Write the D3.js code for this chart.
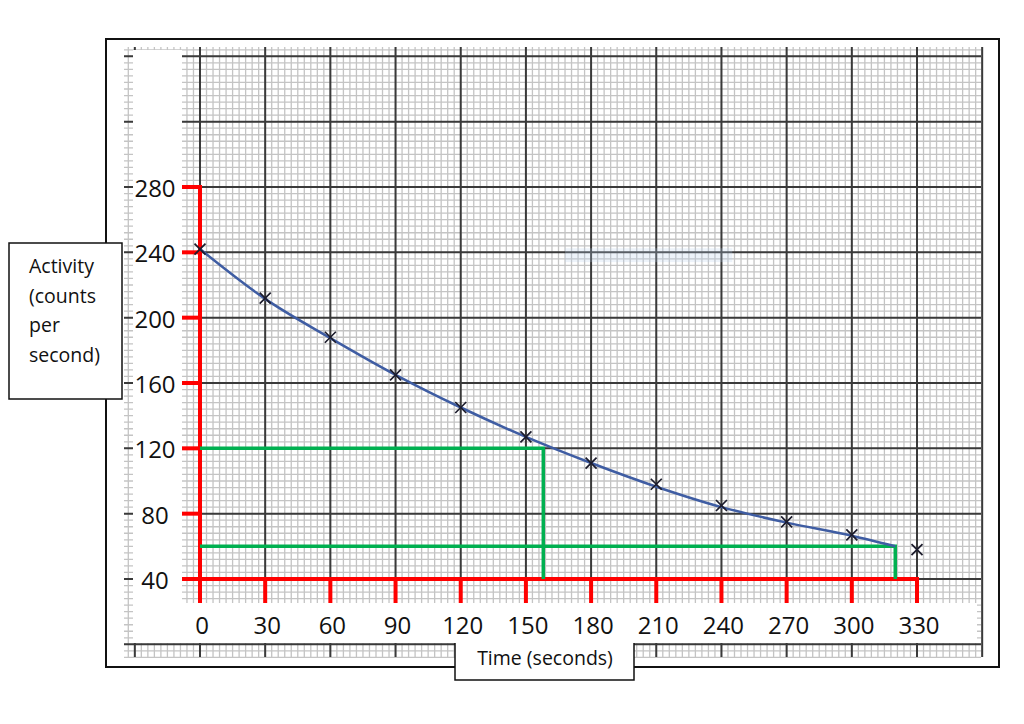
<!DOCTYPE html>
<html>
<head>
<meta charset="utf-8">
<script src="https://cdn.jsdelivr.net/npm/d3@7"></script>
<style>
  body { margin: 0; background: #fff; }
  text { font-family: "Open Sans", "Noto Sans", sans-serif; fill: #111; }
</style>
</head>
<body>
<script>
// measured activity every 30 s (counts per second)
var times = [0, 30, 60, 90, 120, 150, 180, 210, 240, 270, 300, 330];
var counts = [242, 212, 188, 165, 145, 127, 111, 98, 85, 75, 67, 58];

// hand drawn line of best fit
var fitTimes = [0, 30, 60, 90, 120, 150, 180, 210, 240, 270, 300, 320];
var fitCounts = [242, 211.5, 187.5, 165, 145, 127, 111, 96.5, 84, 74.5, 66.5, 60];

var yTicks = [280, 240, 200, 160, 120, 80, 40];
var xTicks = [0, 30, 60, 90, 120, 150, 180, 210, 240, 270, 300, 330];

// half-life construction lines: [time, counts]
var halfLives = [[158, 120], [320, 60]];

var svg = d3.select("body").append("svg")
            .attr("width", 1024)
            .attr("height", 724);

var x = d3.scaleLinear().domain([0, 330]).range([200, 917]);
var y = d3.scaleLinear().domain([40, 280]).range([579, 187]);

// graph paper
var paper = svg.append("g");
var gx0 = x.invert(124), gx1 = x.invert(981);
var gy0 = y.invert(657), gy1 = y.invert(47);

paper.selectAll(".minorV")
    .data(d3.range(-33, 361, 3))
    .enter().append("line")
    .attr("x1", d => x(d)).attr("x2", d => x(d))
    .attr("y1", y(gy0)).attr("y2", y(gy1))
    .attr("stroke", "#c4c4c4")
    .attr("stroke-width", 1.3);

paper.selectAll(".minorH")
    .data(d3.range(-8, 366, 4))
    .enter().append("line")
    .attr("x1", x(gx0)).attr("x2", x(gx1))
    .attr("y1", d => y(d)).attr("y2", d => y(d))
    .attr("stroke", "#c4c4c4")
    .attr("stroke-width", 1.3);

paper.selectAll(".majorV")
    .data(d3.range(-30, 361, 30))
    .enter().append("line")
    .attr("x1", d => x(d)).attr("x2", d => x(d))
    .attr("y1", y(gy0)).attr("y2", y(gy1))
    .attr("stroke", "#3a3a3a")
    .attr("stroke-width", 2);

paper.selectAll(".majorH")
    .data(d3.range(0, 361, 40))
    .enter().append("line")
    .attr("x1", x(gx0)).attr("x2", x(gx1))
    .attr("y1", d => y(d)).attr("y2", d => y(d))
    .attr("stroke", "#3a3a3a")
    .attr("stroke-width", 2);

// white areas pasted over the paper for the labels
svg.append("rect")
    .attr("x", 133).attr("y", 50)
    .attr("width", 49).attr("height", 593)
    .attr("fill", "#fff");

svg.append("rect")
    .attr("x", 133).attr("y", 603)
    .attr("width", 844).attr("height", 40)
    .attr("fill", "#fff");

// faint blue smudge on the scan
svg.append("rect")
    .attr("x", x(168)).attr("y", y(242.5))
    .attr("width", x(245) - x(168)).attr("height", y(234) - y(242.5))
    .attr("fill", "#b9d0ea")
    .attr("opacity", 0.25);

// red axes
var red = "#ff0000";
svg.append("line")
    .attr("x1", x(0)).attr("x2", x(0))
    .attr("y1", y(280) - 2).attr("y2", 603)
    .attr("stroke", red).attr("stroke-width", 4);

svg.append("line")
    .attr("x1", 182).attr("x2", x(330) + 2)
    .attr("y1", y(40)).attr("y2", y(40))
    .attr("stroke", red).attr("stroke-width", 4);

svg.selectAll(".yTick")
    .data(yTicks.slice(0, -1))
    .enter().append("line")
    .attr("x1", 182).attr("x2", x(0))
    .attr("y1", d => y(d)).attr("y2", d => y(d))
    .attr("stroke", red).attr("stroke-width", 4);

svg.selectAll(".xTick")
    .data(xTicks.slice(1))
    .enter().append("line")
    .attr("x1", d => x(d)).attr("x2", d => x(d))
    .attr("y1", y(40)).attr("y2", 603)
    .attr("stroke", red).attr("stroke-width", 4);

// green half-life lines
svg.selectAll(".half")
    .data(halfLives)
    .enter().append("path")
    .attr("d", d => "M" + x(0) + "," + y(d[1]) + "H" + x(d[0]) + "V" + y(40))
    .attr("fill", "none")
    .attr("stroke", "#00b050")
    .attr("stroke-width", 3.5);

// best fit curve
var line = d3.line()
    .x((d, i) => x(fitTimes[i]))
    .y(d => y(d))
    .curve(d3.curveMonotoneX);

svg.append("path")
    .datum(fitCounts)
    .attr("d", line)
    .attr("fill", "none")
    .attr("stroke", "#3f5da3")
    .attr("stroke-width", 2.5);

// crosses at the measured points
var s = 5.5;
svg.selectAll(".pt")
    .data(counts)
    .enter().append("path")
    .attr("d", (d, i) => {
        var px = x(times[i]), py = y(d);
        return "M" + (px - s) + "," + (py - s) + "L" + (px + s) + "," + (py + s) +
               "M" + (px - s) + "," + (py + s) + "L" + (px + s) + "," + (py - s);
    })
    .attr("stroke", "#1c1c2c")
    .attr("stroke-width", 1.7);

// tick labels
svg.selectAll(".yLab")
    .data(yTicks)
    .enter().append("text")
    .attr("x", 155)
    .attr("y", d => y(d) + 10)
    .attr("text-anchor", "middle")
    .attr("font-size", 24)
    .text(d => d);

svg.selectAll(".xLab")
    .data(xTicks)
    .enter().append("text")
    .attr("x", d => x(d) + 2)
    .attr("y", 634)
    .attr("text-anchor", "middle")
    .attr("font-size", 24)
    .text(d => d);

// outer frame
svg.append("rect")
    .attr("x", 106).attr("y", 39)
    .attr("width", 893).attr("height", 628)
    .attr("fill", "none")
    .attr("stroke", "#111")
    .attr("stroke-width", 2);

// y axis title box
svg.append("rect")
    .attr("x", 9).attr("y", 243)
    .attr("width", 113).attr("height", 156)
    .attr("fill", "#fff")
    .attr("stroke", "#111")
    .attr("stroke-width", 1.5);

svg.append("text")
    .attr("x", 29).attr("y", 273)
    .attr("font-size", 19.5)
    .selectAll("tspan")
    .data(["Activity", "(counts", "per", "second)"])
    .enter().append("tspan")
    .attr("x", 29)
    .attr("dy", (d, i) => i ? 29.5 : 0)
    .text(d => d);

// x axis title box
svg.append("rect")
    .attr("x", 455).attr("y", 641)
    .attr("width", 179).attr("height", 39)
    .attr("fill", "#fff");

svg.append("path")
    .attr("d", "M455,643V680H634V643")
    .attr("fill", "none")
    .attr("stroke", "#111")
    .attr("stroke-width", 1.5);

svg.append("text")
    .attr("x", 545).attr("y", 665)
    .attr("text-anchor", "middle")
    .attr("font-size", 19.5)
    .text("Time (seconds)");
</script>
</body>
</html>
